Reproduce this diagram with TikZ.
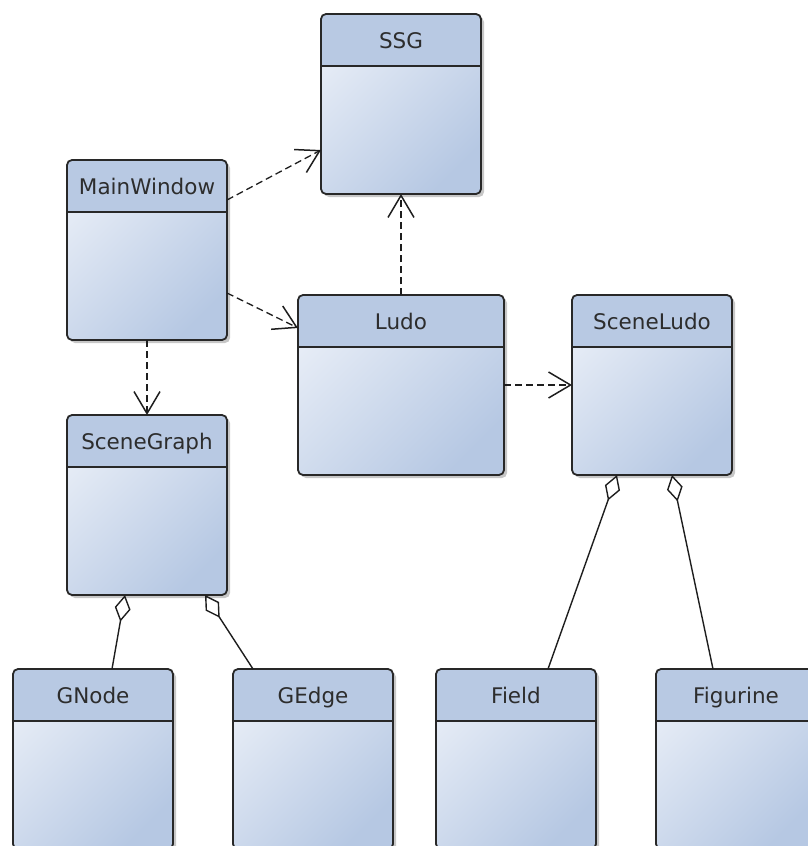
\documentclass[tikz,border=0pt]{standalone}
\usepackage{fontspec}
\setmainfont{DejaVu Sans}
\usetikzlibrary{arrows.meta,shadows}
\definecolor{headc}{RGB}{184,201,227}
\definecolor{bodyl}{RGB}{230,236,246}
\definecolor{bodyd}{RGB}{182,200,227}
\definecolor{edgec}{RGB}{40,40,40}
\definecolor{linec}{RGB}{30,30,30}
\definecolor{textc}{RGB}{45,45,45}
\begin{document}
\begin{tikzpicture}[x=1pt,y=-1pt,
  cls/.style={draw=edgec, line width=1.8pt, rounded corners=5pt,
    minimum width=160pt, minimum height=180pt, inner sep=0pt, outer sep=0pt,
    top color=bodyl, bottom color=bodyd, shading angle=45,
    drop shadow={shadow xshift=3pt, shadow yshift=-3pt, fill=black, opacity=0.22},
    path picture={
      \fill[headc, sharp corners] (path picture bounding box.north west) rectangle ([yshift=-52pt]path picture bounding box.north east);
      \draw[edgec, line width=1.8pt, sharp corners] ([yshift=-52pt]path picture bounding box.north west) -- ([yshift=-52pt]path picture bounding box.north east);
    }},
  ttl/.style={font=\fontsize{21.5}{25}\selectfont, text=textc, inner sep=0pt,
    text height=15.5pt, text depth=4.5pt},
  dep/.style={draw=linec, line width=1.3pt, dash pattern=on 7pt off 4pt,
    -{Straight Barb[length=22pt,width=26pt,line width=1.5pt]}},
  agg/.style={draw=linec, line width=1.4pt,
    {Diamond[length=27pt,width=16pt,fill=white,line width=1.4pt]}-}
]
\useasboundingbox (0,0) rectangle (807,846);

\node[cls] (ssg) at (401,104) {};
\node[cls] (mw) at (147,250) {};
\node[cls] (sg) at (147,505) {};
\node[cls, minimum width=206pt] (ludo) at (401,385) {};
\node[cls] (sl) at (652,385) {};
\node[cls] (gnode) at (93,759) {};
\node[cls] (gedge) at (313,759) {};
\node[cls] (field) at (516,759) {};
\node[cls] (fig) at (736,759) {};

\node[ttl] (ssgT) at ([yshift=-28.5pt]ssg.north) {SSG};
\node[ttl] (mwT) at ([yshift=-28.5pt]mw.north) {MainWindow};
\node[ttl] (sgT) at ([yshift=-28.5pt]sg.north) {SceneGraph};
\node[ttl] (ludoT) at ([yshift=-28.5pt]ludo.north) {Ludo};
\node[ttl] (slT) at ([yshift=-28.5pt]sl.north) {SceneLudo};
\node[ttl] (gnodeT) at ([yshift=-28.5pt]gnode.north) {GNode};
\node[ttl] (gedgeT) at ([yshift=-28.5pt]gedge.north) {GEdge};
\node[ttl] (fieldT) at ([yshift=-28.5pt]field.north) {Field};
\node[ttl] (figT) at ([yshift=-28.5pt]fig.north) {Figurine};

\draw[dep] ([yshift=50pt]mw.east) -- ([yshift=-46pt]ssg.west);
\draw[dep] ([yshift=-43pt]mw.east) -- ([yshift=57pt]ludo.west);
\draw[dep] (mw.south) -- (sg.north);
\draw[dep] (ludo.north) -- (ssg.south);
\draw[dep] (ludo.east) -- (sl.west);

\draw[agg] ([xshift=-22pt]sg.south) -- ([xshift=19pt]gnode.north);
\draw[agg] ([xshift=58pt]sg.south) -- ([xshift=-60pt]gedge.north);
\draw[agg] ([xshift=-35pt]sl.south) -- ([xshift=32pt]field.north);
\draw[agg] ([xshift=20pt]sl.south) -- ([xshift=-23pt]fig.north);
\end{tikzpicture}
\end{document}
